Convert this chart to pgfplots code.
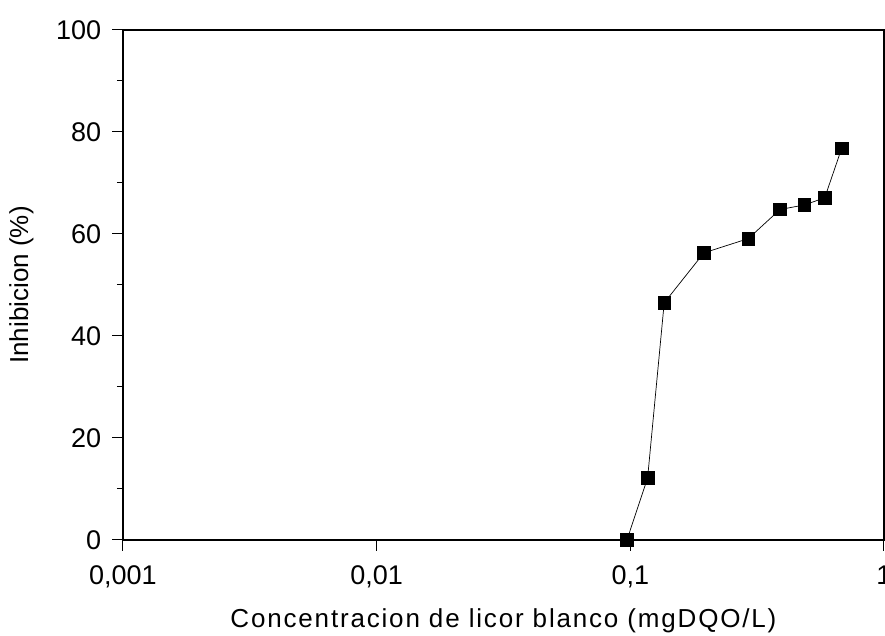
\documentclass[border=0pt]{standalone}
\usepackage{fontspec}
\setmainfont{Liberation Sans}
\usepackage{pgfplots}
\usetikzlibrary{calc}
\pgfplotsset{compat=1.18}
\begin{document}
\fontsize{26}{30}\selectfont
\begin{tikzpicture}
\begin{axis}[
  scale only axis,
  width=761pt, height=510pt,
  xmode=log,
  xmin=0.001, xmax=1,
  ymin=0, ymax=100,
  xtick={0.001,0.01,0.1,1},
  xticklabels={{0,001},{0,01},{0,1},{1}},
  ytick={0,20,40,60,80,100},
  minor ytick={10,30,50,70,90},
  xminorticks=false,
  tick pos=left,
  tick align=outside,
  major tick length=11pt,
  minor tick length=6pt,
  every tick/.style={black, line width=1pt},
  axis line style={black, line width=1.3pt},
  /pgf/number format/assume math mode=true,
  ticklabel style={font=\fontsize{27}{32}\selectfont},
  xticklabel style={yshift=-6pt},
  yticklabel style={xshift=-2pt},
  xlabel={\addfontfeature{LetterSpace=7}Concentracion de licor blanco (mgDQO/L)},
  ylabel={Inhibicion (\%)},
  label style={font=\fontsize{26}{30}\selectfont},
  xlabel style={yshift=-3pt},
  ylabel style={yshift=5pt},
]
\addplot[black, line width=0.7pt, mark=square*, mark size=6.3pt, mark options={solid}]
coordinates {
(0.097,0) (0.117,12.2) (0.136,46.5) (0.195,56.3) (0.292,59.1)
(0.389,64.8) (0.486,65.7) (0.584,67.1) (0.681,76.8)
};
\end{axis}
\pgfresetboundingbox
\path[use as bounding box] ($(current axis.south west)+(-123pt,-96pt)$) rectangle ($(current axis.north east)+(1pt,30pt)$);
\end{tikzpicture}
\end{document}
